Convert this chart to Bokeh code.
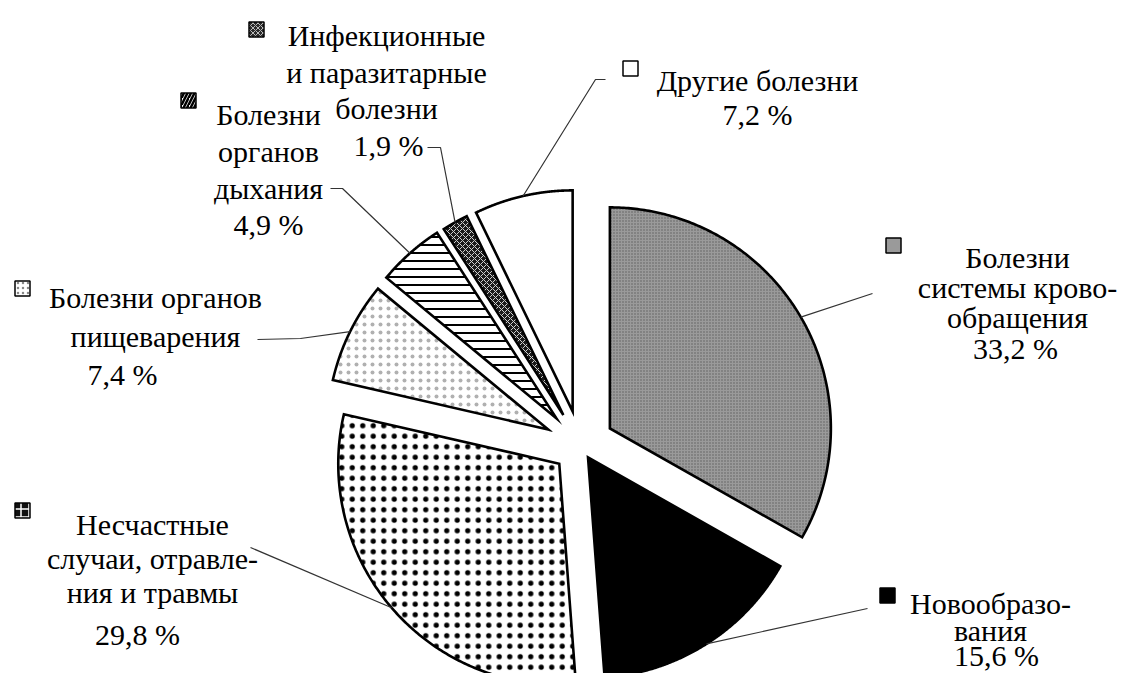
import numpy as np
from bokeh.plotting import figure
from bokeh.models import Range1d
from bokeh.embed import file_html
from bokeh.resources import INLINE
from bokeh.core.properties import value

# ---------------- data ----------------
categories = [
    "Болезни системы кровообращения",
    "Новообразования",
    "Несчастные случаи, отравления и травмы",
    "Болезни органов пищеварения",
    "Болезни органов дыхания",
    "Инфекционные и паразитарные болезни",
    "Другие болезни",
]
shares = [33.2, 15.6, 29.8, 7.4, 4.9, 1.9, 7.2]
label_lines = [
    ["Болезни", "системы крово-", "обращения"],
    ["Новообразо-", "вания"],
    ["Несчастные", "случаи, отравле-", "ния и травмы"],
    ["Болезни органов", "пищеварения"],
    ["Болезни", "органов", "дыхания"],
    ["Инфекционные", "и паразитарные", "болезни"],
    ["Другие болезни"],
]
percent_labels = [f"{v:.1f}".replace(".", ",") + " %" for v in shares]

# ---------------- layout / style ----------------
W, H = 1127, 673
CX, CY, R = 580.0, 445.0, 221.0
explode = [34, 14, 28, 36, 36, 35, 35]
FONT = value("Liberation Serif")
FSIZE = "30px"

styles = [
    dict(fill_color="#9a9a9a", hatch_pattern="dot", hatch_color="#5e5e5e", hatch_scale=3, hatch_weight=1),
    dict(fill_color="#000000"),
    dict(fill_color="#ffffff", hatch_pattern="dot", hatch_color="#000000", hatch_scale=10.5, hatch_weight=5),
    dict(fill_color="#ffffff", hatch_pattern="dot", hatch_color="#b0b0b0", hatch_scale=8, hatch_weight=1),
    dict(fill_color="#ffffff", hatch_pattern="-", hatch_color="#000000", hatch_scale=8, hatch_weight=2),
    dict(fill_color="#1a1a1a", hatch_pattern="x", hatch_color="#d0d0d0", hatch_scale=6, hatch_weight=1),
    dict(fill_color="#ffffff"),
]
marker_styles = [
    dict(fill_color="#9a9a9a"),
    dict(fill_color="#000000"),
    dict(fill_color="#111111", hatch_pattern="+", hatch_color="#ffffff", hatch_scale=8, hatch_weight=1.5),
    dict(fill_color="#ffffff", hatch_pattern="dot", hatch_color="#888888", hatch_scale=5, hatch_weight=1),
    dict(fill_color="#ffffff", hatch_pattern="/", hatch_color="#000000", hatch_scale=7, hatch_weight=2.5),
    dict(fill_color="#2a2a2a", hatch_pattern="x", hatch_color="#bbbbbb", hatch_scale=5, hatch_weight=1),
    dict(fill_color="#ffffff"),
]

# label layout: (x center, first baseline, line step)
label_pos = [
    (1017, 257, 30),
    (990, 603, 27),
    (152, 524, 34),
    (155, 297, 39),
    (268, 114, 37),
    (386, 35, 36.5),
    (757, 80, 35),
]
pct_pos = [
    (1015, 348),
    (996, 655),
    (137, 634),
    (122, 374),
    (268, 224),
    (388, 145),
    (757, 114),
]
marker_pos = [(893, 245), (887, 595), (22, 510), (22, 288), (188, 100), (256, 29), (630, 68)]
leader_start = [
    [(872, 293)],
    [(867, 608)],
    [(250, 547)],
    [(257, 339), (300, 338)],
    [(330, 188), (342, 188)],
    [(427, 147), (440, 147)],
    [(605, 79), (595, 79)],
]

p = figure(width=W, height=H, output_backend="svg", toolbar_location=None,
           x_range=Range1d(0, W), y_range=Range1d(H, 0),
           x_axis_location=None, y_axis_location=None,
           min_border=0)
p.grid.visible = False
p.outline_line_color = None
p.background_fill_color = "white"
p.border_fill_color = "white"

total = sum(shares)
start = 0.0
for i, v in enumerate(shares):
    a0 = start
    a1 = start + v / total * 2 * np.pi
    mid = 0.5 * (a0 + a1)
    start = a1
    ox = CX + explode[i] * np.sin(mid)
    oy = CY - explode[i] * np.cos(mid)
    t = np.linspace(a0, a1, 200)
    xs = np.concatenate([[ox], ox + R * np.sin(t)])
    ys = np.concatenate([[oy], oy - R * np.cos(t)])
    p.patch(xs, ys, line_color="black", line_width=2.6, line_join="miter", **styles[i])

    # leader line to the middle of the slice's arc
    ex = ox + R * np.sin(mid)
    ey = oy - R * np.cos(mid)
    pts = leader_start[i] + [(ex, ey)]
    p.line([q[0] for q in pts], [q[1] for q in pts], line_color="#333333", line_width=1.2)

    # legend key
    mx, my = marker_pos[i]
    p.rect([mx], [my], width=15, height=15, line_color="black", line_width=1.5, **marker_styles[i])

    # label text
    lx, ly, step = label_pos[i]
    lines = label_lines[i]
    p.text(x=[lx] * len(lines), y=[ly + k * step for k in range(len(lines))], text=lines,
           text_font=FONT, text_font_size=FSIZE, text_align="center",
           text_baseline="alphabetic", text_color="black")
    px_, py_ = pct_pos[i]
    p.text(x=[px_], y=[py_], text=[percent_labels[i]], text_font=FONT, text_font_size=FSIZE,
           text_align="center", text_baseline="alphabetic", text_color="black")

open("out.html", "w").write(file_html(p, INLINE))
